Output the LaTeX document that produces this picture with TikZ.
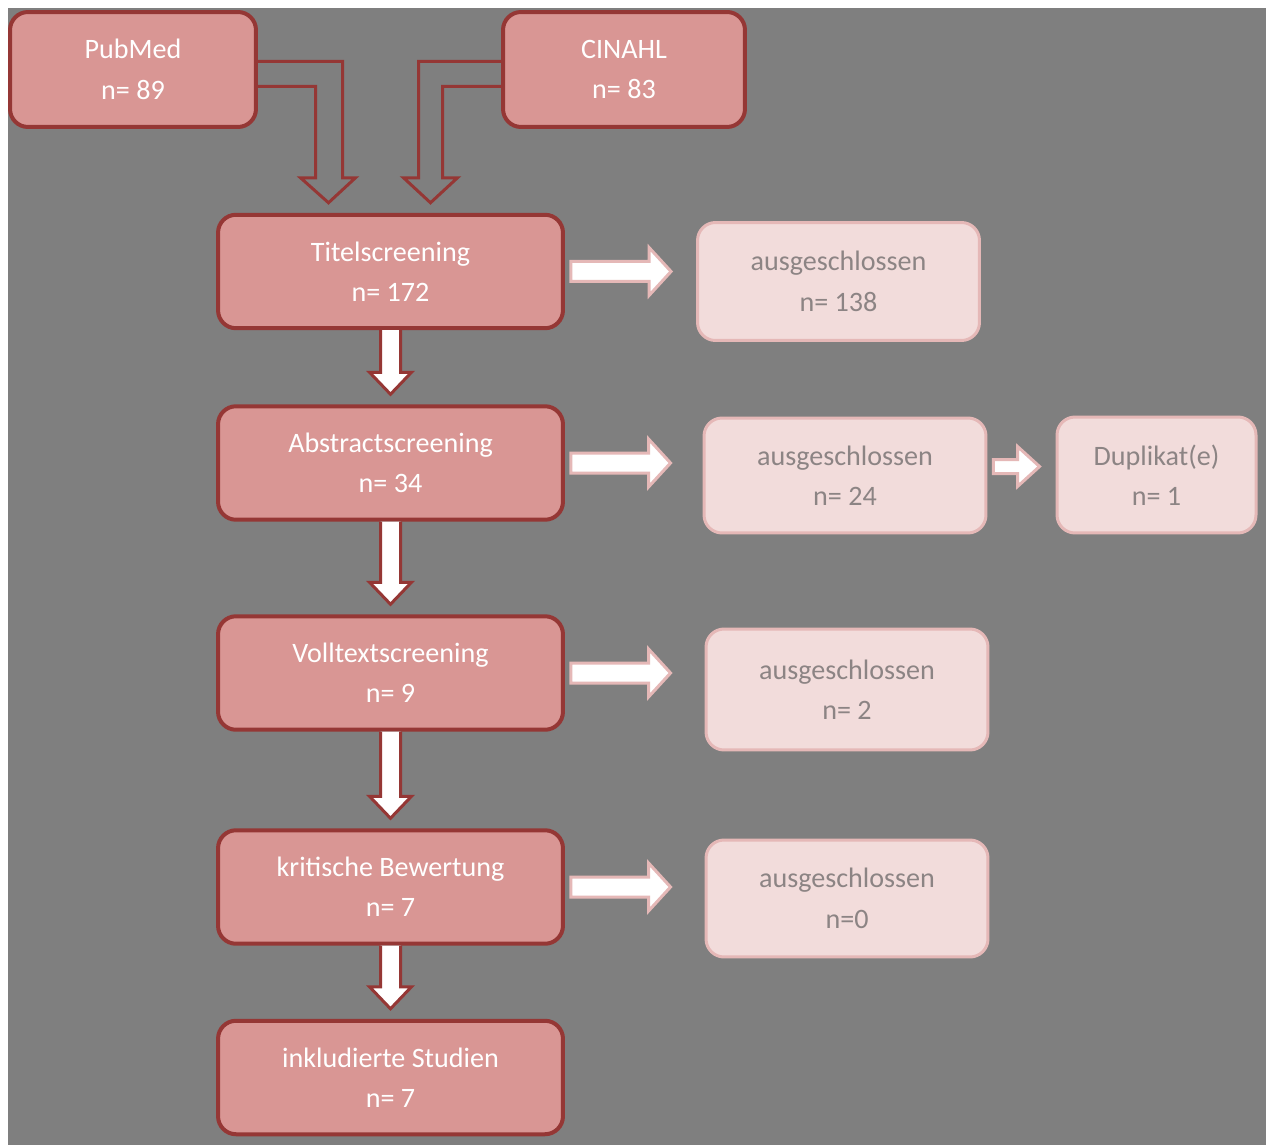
\documentclass[tikz,border=0pt]{standalone}
\usepackage{fontspec}
\setmainfont{Carlito}
\usetikzlibrary{calc}
\definecolor{bg}{HTML}{7F7F7F}
\definecolor{boxfill}{HTML}{D99694}
\definecolor{boxline}{HTML}{953735}
\definecolor{exfill}{HTML}{F2DCDB}
\definecolor{exline}{HTML}{E5B8B7}
\definecolor{extext}{HTML}{8C8484}
% block arrow downwards between two main boxes
\newcommand{\downblock}[2]{%
  \draw[downline] ($(#1.south)+(-10,0)$) -- ($(#2.north)+(-10,-32)$) -- ($(#2.north)+(-21,-32)$)
    -- ($(#2.north)+(0,-10)$) -- ($(#2.north)+(21,-32)$) -- ($(#2.north)+(10,-32)$) -- ($(#1.south)+(10,0)$);}
% block arrow to the right: [vertical shift] from, to, tip gap, shaft half width, head half width
\newcommand{\sideblock}[6][0]{%
  \draw[sideline] ($(#2.east)+(6,-#5+#1)$) -- ($(#2.east -| #3.west)+(-#4-22,-#5+#1)$) -- ($(#2.east -| #3.west)+(-#4-22,-#6+#1)$)
    -- ($(#2.east -| #3.west)+(-#4,#1)$) -- ($(#2.east -| #3.west)+(-#4-22,#6+#1)$) -- ($(#2.east -| #3.west)+(-#4-22,#5+#1)$)
    -- ($(#2.east)+(6,#5+#1)$) -- cycle;}
\begin{document}
\begin{tikzpicture}[x=0.02cm, y=-0.02cm,
  mainbox/.style={draw=boxline, fill=boxfill, line width=0.08cm, rounded corners=0.36cm,
    minimum width=6.9cm, minimum height=2.27cm, align=center, text=white,
    font=\fontsize{16}{23}\selectfont},
  exbox/.style={draw=exline, fill=exfill, line width=0.06cm, rounded corners=0.36cm,
    minimum width=5.64cm, minimum height=2.36cm, align=center, text=extext,
    font=\fontsize{16}{23}\selectfont},
  downline/.style={draw=boxline, fill=white, line width=0.06cm},
  sideline/.style={draw=exline, fill=white, line width=0.06cm},
  elbowline/.style={draw=boxline, line width=0.06cm}]
\useasboundingbox (0,0) rectangle (1270,1145);
\fill[bg] (8,8) rectangle (1266,1145);

% sources
\node [mainbox, minimum width=4.92cm, minimum height=2.3cm] (pubmed) at (133,69.5) {PubMed\\n= 89};
\node [mainbox, minimum width=4.84cm, minimum height=2.3cm] (cinahl) at (624,69.5) {CINAHL\\n= 83};

% screening steps
\node [mainbox] (titel) at (390.5,271.5) {Titelscreening\\n= 172};
\node [mainbox] (abstract) at (390.5,463) {Abstractscreening\\n= 34};
\node [mainbox] (volltext) at (390.5,673) {Volltextscreening\\n= 9};
\node [mainbox] (kritik) at (390.5,887) {kritische Bewertung\\n= 7};
\node [mainbox] (inkl) at (390.5,1077.5) {inkludierte Studien\\n= 7};

% excluded
\node [exbox] (aus1) at (838.5,281.5) {ausgeschlossen\\n= 138};
\node [exbox, minimum height=2.3cm] (aus2) at (845,475.5) {ausgeschlossen\\n= 24};
\node [exbox, minimum width=3.98cm, minimum height=2.32cm] (dup) at (1156.5,475) {Duplikat(e)\\n= 1};
\node [exbox, minimum height=2.42cm] (aus3) at (847,689.5) {ausgeschlossen\\n= 2};
\node [exbox, minimum height=2.34cm] (aus4) at (847,898.5) {ausgeschlossen\\n=0};

% elbow arrows into Titelscreening
\draw[elbowline] ($(pubmed.east)+(0,-8)$) -- ($(titel.north |- pubmed.east)+(-48,-8)$) -- ($(titel.north)+(-48,-35)$)
  -- ($(titel.north)+(-35,-35)$) -- ($(titel.north)+(-62,-10)$) -- ($(titel.north)+(-90,-35)$)
  -- ($(titel.north)+(-75,-35)$) -- ($(titel.north |- pubmed.east)+(-75,17)$) -- ($(pubmed.east)+(0,17)$);
\draw[elbowline] ($(cinahl.west)+(0,-8)$) -- ($(titel.north |- cinahl.west)+(28,-8)$) -- ($(titel.north)+(28,-35)$)
  -- ($(titel.north)+(13,-35)$) -- ($(titel.north)+(40,-10)$) -- ($(titel.north)+(67,-35)$)
  -- ($(titel.north)+(52,-35)$) -- ($(titel.north |- cinahl.west)+(52,17)$) -- ($(cinahl.west)+(0,17)$);

% flow downwards
\downblock{titel}{abstract}
\downblock{abstract}{volltext}
\downblock{volltext}{kritik}
\downblock{kritik}{inkl}

% flow to the right
\sideblock{titel}{aus1}{25}{10}{24}
\sideblock{abstract}{aus2}{32}{10}{24}
\sideblock{volltext}{aus3}{34}{10}{24}
\sideblock{kritik}{aus4}{34}{10}{24}
\sideblock[-9]{aus2}{dup}{16}{7}{20}
\end{tikzpicture}
\end{document}
